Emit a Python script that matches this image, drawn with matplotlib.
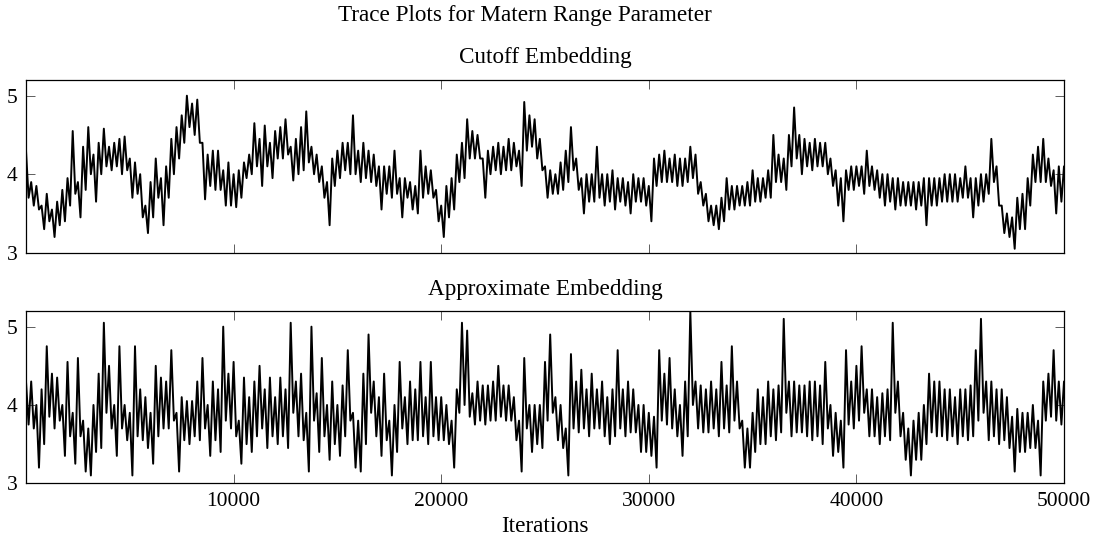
import numpy as np
import matplotlib
matplotlib.use("Agg")
import matplotlib.pyplot as plt

plt.rcParams['font.family'] = ['Liberation Serif', 'DejaVu Serif']

# Sampled every 250 iterations: upper and lower edge of the trace band
step = 250
cutoff_hi = [
    4.30, 3.90, 3.85, 3.60, 3.75, 3.55, 3.65, 3.80, 3.95, 4.55,
    3.90, 4.35, 4.60, 4.25, 4.40, 4.58, 4.35, 4.40, 4.45, 4.48,
    4.20, 4.15, 4.00, 3.60, 3.90, 4.20, 3.95, 4.10, 4.45, 4.60,
    4.75, 5.00, 4.90, 4.95, 4.40, 4.25, 4.30, 4.30, 4.05, 4.15,
    4.00, 4.05, 4.15, 4.25, 4.65, 4.45, 4.62, 4.40, 4.55, 4.60,
    4.70, 4.35, 4.45, 4.60, 4.80, 4.35, 4.25, 4.10, 3.90, 4.20,
    4.30, 4.40, 4.40, 4.75, 4.30, 4.40, 4.30, 4.25, 4.10, 4.10,
    4.10, 4.30, 3.95, 3.95, 3.90, 3.85, 4.30, 4.10, 4.05, 3.80,
    3.60, 3.85, 3.95, 4.25, 4.40, 4.70, 4.55, 4.50, 4.20, 4.30,
    4.35, 4.40, 4.35, 4.45, 4.40, 4.30, 4.92, 4.75, 4.70, 4.45,
    4.10, 4.05, 4.00, 4.15, 4.30, 4.60, 4.20, 3.95, 4.00, 4.00,
    4.35, 4.00, 4.00, 4.05, 3.95, 3.95, 3.90, 4.00, 3.95, 3.95,
    3.85, 4.20, 4.25, 4.30, 4.20, 4.25, 4.20, 4.20, 4.35, 4.25,
    3.90, 3.75, 3.60, 3.60, 3.70, 3.95, 3.85, 3.85, 3.85, 3.90,
    4.05, 3.95, 3.95, 4.05, 4.50, 4.25, 4.20, 4.50, 4.85, 4.50,
    4.45, 4.40, 4.45, 4.40, 4.40, 4.20, 4.05, 3.95, 4.05, 4.10,
    4.10, 4.10, 4.30, 4.10, 4.05, 4.00, 4.00, 3.95, 3.95, 3.90,
    3.90, 3.90, 3.90, 3.95, 3.95, 3.95, 3.95, 4.00, 4.00, 4.00,
    3.95, 4.10, 3.95, 3.95, 4.00, 4.00, 4.45, 4.10, 3.60, 3.50,
    3.45, 3.70, 3.75, 3.95, 4.25, 4.35, 4.45, 4.20, 4.05, 4.10,
    4.10,
]
cutoff_lo = [
    3.70, 3.60, 3.55, 3.30, 3.40, 3.20, 3.35, 3.40, 3.60, 3.75,
    3.45, 3.80, 4.00, 3.65, 4.00, 4.10, 4.05, 4.10, 4.00, 4.05,
    3.70, 3.75, 3.45, 3.25, 3.45, 3.70, 3.35, 3.70, 4.00, 4.20,
    4.40, 4.60, 4.50, 4.40, 3.68, 3.85, 3.80, 3.80, 3.60, 3.60,
    3.58, 3.70, 3.95, 4.00, 4.10, 3.85, 4.10, 3.95, 4.20, 4.20,
    4.25, 3.92, 4.00, 4.05, 4.15, 4.00, 3.90, 3.70, 3.35, 3.85,
    3.95, 4.05, 4.00, 4.00, 3.90, 3.95, 3.90, 3.85, 3.55, 3.75,
    3.70, 3.75, 3.45, 3.70, 3.55, 3.50, 3.70, 3.75, 3.70, 3.40,
    3.20, 3.45, 3.55, 3.90, 3.95, 4.20, 4.20, 4.20, 3.70, 4.00,
    4.05, 4.00, 4.05, 4.05, 4.10, 3.85, 4.30, 4.35, 4.20, 4.05,
    3.70, 3.75, 3.75, 3.80, 3.90, 4.05, 3.80, 3.50, 3.65, 3.65,
    3.70, 3.60, 3.65, 3.55, 3.65, 3.60, 3.50, 3.65, 3.65, 3.60,
    3.40, 3.85, 3.90, 3.90, 3.90, 3.85, 3.85, 3.90, 3.95, 3.75,
    3.60, 3.40, 3.35, 3.30, 3.40, 3.55, 3.55, 3.60, 3.60, 3.60,
    3.65, 3.65, 3.70, 3.70, 3.90, 3.90, 3.80, 4.10, 4.20, 4.00,
    4.10, 4.05, 4.10, 4.10, 4.00, 3.85, 3.60, 3.40, 3.80, 3.80,
    3.85, 3.75, 3.85, 3.80, 3.70, 3.60, 3.65, 3.55, 3.60, 3.60,
    3.60, 3.55, 3.60, 3.35, 3.60, 3.60, 3.65, 3.65, 3.65, 3.65,
    3.70, 3.70, 3.45, 3.60, 3.65, 3.75, 3.90, 3.60, 3.25, 3.20,
    3.05, 3.30, 3.30, 3.60, 3.90, 3.90, 3.90, 3.85, 3.50, 3.65,
    3.75,
]
approx_hi = [
    4.30, 4.30, 4.00, 4.20, 4.75, 4.40, 4.35, 4.00, 4.55, 3.90,
    4.60, 3.80, 3.70, 4.00, 4.40, 5.05, 4.50, 4.00, 4.75, 4.00,
    3.90, 4.75, 4.20, 4.10, 3.90, 4.50, 4.35, 4.30, 4.70, 3.90,
    4.10, 4.05, 4.05, 4.30, 4.60, 4.00, 4.30, 4.20, 5.00, 4.40,
    4.55, 3.80, 4.35, 4.10, 4.30, 4.50, 4.20, 4.35, 4.10, 4.35,
    4.20, 5.05, 4.30, 4.40, 3.90, 5.00, 4.15, 4.60, 4.00, 4.30,
    4.00, 4.25, 4.70, 3.90, 3.80, 4.40, 4.90, 4.30, 4.10, 4.40,
    3.80, 4.00, 4.55, 4.10, 4.30, 4.20, 4.55, 4.10, 4.55, 4.10,
    4.10, 4.00, 3.80, 4.20, 5.05, 4.95, 4.15, 4.30, 4.25, 4.25,
    4.30, 4.50, 4.25, 4.25, 4.10, 3.80, 4.60, 4.00, 4.00, 4.00,
    4.55, 4.90, 4.10, 4.00, 3.70, 4.65, 4.30, 4.45, 4.20, 4.40,
    4.20, 4.30, 4.10, 4.20, 4.70, 4.20, 4.30, 4.20, 4.00, 4.00,
    3.90, 3.85, 4.70, 4.40, 4.60, 4.20, 4.00, 4.30, 5.20, 4.30,
    4.25, 4.20, 4.30, 4.20, 4.55, 4.25, 4.75, 4.30, 3.80, 3.70,
    3.90, 4.20, 4.10, 4.30, 4.20, 4.25, 5.10, 4.30, 4.30, 4.25,
    4.25, 4.30, 4.30, 4.25, 4.55, 4.00, 3.90, 3.80, 4.70, 4.30,
    4.50, 4.75, 4.20, 4.20, 4.10, 4.15, 4.20, 5.05, 4.30, 3.90,
    3.70, 3.80, 3.90, 4.00, 4.40, 4.30, 4.30, 4.20, 4.20, 4.10,
    4.20, 4.20, 4.25, 4.70, 5.10, 4.30, 4.30, 4.20, 4.20, 4.10,
    3.85, 3.95, 3.90, 3.90, 4.00, 3.80, 4.30, 4.40, 4.70, 4.30,
    4.30,
]
approx_lo = [
    3.75, 3.70, 3.20, 3.50, 3.85, 3.70, 3.80, 3.35, 3.60, 3.25,
    3.60, 3.15, 3.10, 3.40, 3.45, 3.90, 3.70, 3.35, 3.70, 3.55,
    3.10, 3.60, 3.55, 3.45, 3.25, 3.60, 3.70, 3.70, 3.80, 3.15,
    3.55, 3.50, 3.60, 3.55, 3.70, 3.35, 3.55, 3.40, 3.80, 3.70,
    3.60, 3.25, 3.50, 3.40, 3.60, 3.70, 3.45, 3.60, 3.50, 3.60,
    3.45, 3.90, 3.60, 3.55, 3.15, 3.80, 3.40, 3.60, 3.30, 3.50,
    3.35, 3.60, 3.80, 3.20, 3.15, 3.50, 3.90, 3.60, 3.35, 3.55,
    3.10, 3.40, 3.70, 3.50, 3.55, 3.55, 3.60, 3.50, 3.60, 3.55,
    3.55, 3.50, 3.20, 3.90, 4.00, 3.85, 3.75, 3.80, 3.75, 3.80,
    3.80, 3.85, 3.80, 3.80, 3.55, 3.15, 3.70, 3.40, 3.50, 3.45,
    3.80, 3.90, 3.55, 3.45, 3.10, 3.70, 3.65, 3.70, 3.60, 3.70,
    3.70, 3.60, 3.50, 3.60, 3.70, 3.60, 3.65, 3.65, 3.40, 3.40,
    3.35, 3.20, 3.80, 3.75, 3.70, 3.60, 3.35, 3.60, 4.00, 3.70,
    3.65, 3.65, 3.70, 3.60, 3.70, 3.65, 3.80, 3.70, 3.20, 3.20,
    3.40, 3.50, 3.50, 3.60, 3.55, 3.65, 3.90, 3.60, 3.65, 3.65,
    3.60, 3.55, 3.60, 3.50, 3.70, 3.35, 3.40, 3.20, 3.75, 3.70,
    3.80, 3.90, 3.60, 3.60, 3.50, 3.60, 3.55, 3.90, 3.60, 3.30,
    3.10, 3.30, 3.30, 3.50, 3.65, 3.60, 3.60, 3.55, 3.60, 3.50,
    3.60, 3.55, 3.60, 3.80, 3.90, 3.55, 3.60, 3.50, 3.55, 3.45,
    3.15, 3.40, 3.40, 3.45, 3.45, 3.10, 3.80, 3.85, 3.80, 3.75,
    3.75,
]
panel_titles = ["Cutoff Embedding", "Approximate Embedding"]
main_title = "Trace Plots for Matern Range Parameter"
x_label = "Iterations"
x_ticks = [10000, 20000, 30000, 40000, 50000]
y_ticks = [3, 4, 5]

W, H = 1099, 542
fig = plt.figure(figsize=(W / 100, H / 100), dpi=100)
fs_tick = 15.5
fs_text = 16.7

def fx(px):
    return px / W

def fy(py):
    return 1 - py / H

axes_px = [(26, 80, 1064, 252.7), (26, 311, 1064, 483.3)]
bands = [(cutoff_hi, cutoff_lo), (approx_hi, approx_lo)]
title_y = [57, 289]

for k, (x0, y0, x1, y1) in enumerate(axes_px):
    ax = fig.add_axes([fx(x0), fy(y1), fx(x1) - fx(x0), (y1 - y0) / H])
    hi = np.asarray(bands[k][0])
    lo = np.asarray(bands[k][1])
    base = np.arange(len(hi)) * step
    xs = np.column_stack([base, base + step / 2]).ravel()
    ys = np.column_stack([hi, lo]).ravel()
    ax.plot(xs, ys, color='black', lw=1.4)
    ax.set_xlim(0, 50000)
    ax.set_ylim(3, 5.2)
    ax.set_xticks(x_ticks)
    ax.set_yticks(y_ticks)
    ax.tick_params(direction='in', top=True, right=True, length=6.5,
                   width=0.6, labelsize=fs_tick, color='#444444', pad=6)
    for s in ax.spines.values():
        s.set_linewidth(0.9)
    if k == 0:
        ax.set_xticklabels([])
    fig.text(fx(545), fy(title_y[k]), panel_titles[k], ha='center',
             va='center', fontsize=fs_text)

fig.text(fx(525), fy(16), main_title, ha='center', va='center', fontsize=fs_text)
fig.text(fx(545), fy(526), x_label, ha='center', va='center', fontsize=fs_text)

fig.savefig("out.png", dpi=100)
